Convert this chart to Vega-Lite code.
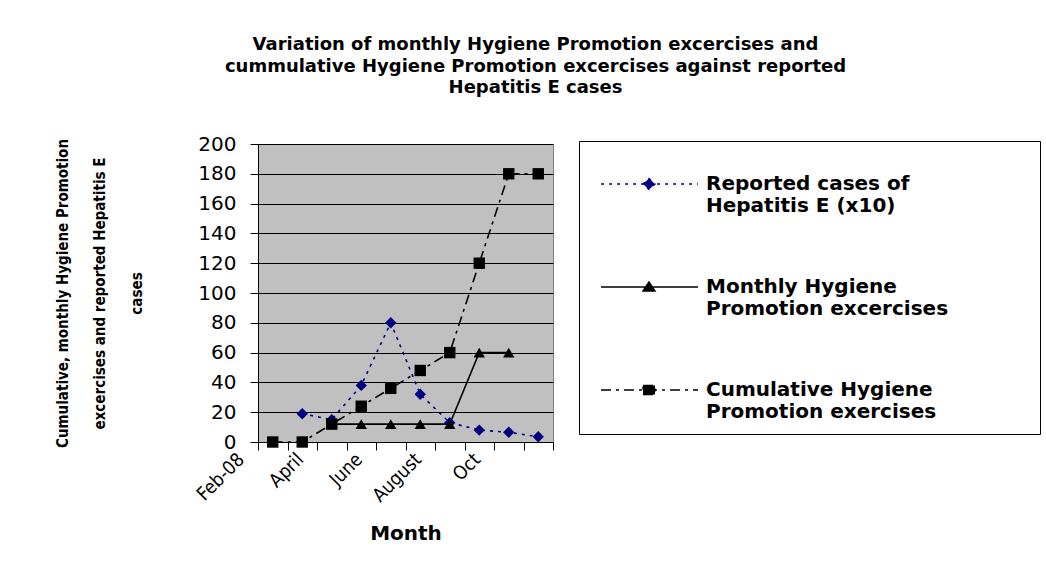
{
  "$schema": "https://vega.github.io/schema/vega-lite/v6.json",
  "width": 295,
  "height": 298,
  "autosize": {"type": "none"},
  "padding": {"left": 258, "top": 144, "right": 493, "bottom": 122},
  "background": "white",
  "title": {
    "text": ["Variation of monthly Hygiene Promotion excercises and", "cummulative Hygiene Promotion excercises against reported", "Hepatitis E cases"],
    "anchor": "middle",
    "frame": "group",
    "dx": 130,
    "offset": 37,
    "font": "DejaVu Sans",
    "fontSize": 18,
    "fontWeight": "bold",
    "lineHeight": 21.5,
    "color": "black"
  },
  "data": {
    "values": [
      {"month": "March", "series": "reported", "value": 19},
      {"month": "April", "series": "reported", "value": 15},
      {"month": "May", "series": "reported", "value": 38},
      {"month": "June", "series": "reported", "value": 80},
      {"month": "July", "series": "reported", "value": 32},
      {"month": "August", "series": "reported", "value": 13},
      {"month": "Sept", "series": "reported", "value": 8},
      {"month": "Oct", "series": "reported", "value": 6.5},
      {"month": "Nov", "series": "reported", "value": 3.5},
      {"month": "April", "series": "monthly", "value": 12},
      {"month": "May", "series": "monthly", "value": 12},
      {"month": "June", "series": "monthly", "value": 12},
      {"month": "July", "series": "monthly", "value": 12},
      {"month": "August", "series": "monthly", "value": 12},
      {"month": "Sept", "series": "monthly", "value": 60},
      {"month": "Oct", "series": "monthly", "value": 60},
      {"month": "Feb-08", "series": "cumulative", "value": 0},
      {"month": "March", "series": "cumulative", "value": 0},
      {"month": "April", "series": "cumulative", "value": 12},
      {"month": "May", "series": "cumulative", "value": 24},
      {"month": "June", "series": "cumulative", "value": 36},
      {"month": "July", "series": "cumulative", "value": 48},
      {"month": "August", "series": "cumulative", "value": 60},
      {"month": "Sept", "series": "cumulative", "value": 120},
      {"month": "Oct", "series": "cumulative", "value": 180},
      {"month": "Nov", "series": "cumulative", "value": 180}
    ]
  },
  "encoding": {
    "x": {
      "field": "month",
      "type": "ordinal",
      "sort": ["Feb-08", "March", "April", "May", "June", "July", "August", "Sept", "Oct", "Nov"],
      "bandPosition": 0.5,
      "scale": {"type": "band", "paddingInner": 0, "paddingOuter": 0},
      "axis": {
        "title": "Month",
        "titleFont": "DejaVu Sans",
        "titleFontSize": 20,
        "titleFontWeight": "bold",
        "titleColor": "black",
        "titleBaseline": "middle",
        "titleY": 91,
        "labelAngle": -45,
        "labelAlign": "right",
        "labelBaseline": "middle",
        "labelOffset": -32,
        "labelPadding": 6,
        "labelFont": "DejaVu Sans Condensed",
        "labelFontSize": 19,
        "labelColor": "black",
        "labelExpr": "indexof(['Feb-08','April','June','August','Oct'], datum.value) >= 0 ? datum.value : ''",
        "tickBand": "extent",
        "tickSize": 8,
        "tickColor": "black",
        "domainColor": "black",
        "grid": false
      }
    },
    "y": {
      "field": "value",
      "type": "quantitative",
      "scale": {"domain": [0, 200], "nice": false},
      "axis": {
        "title": ["Cumulative, monthly Hygiene Promotion", "excercises and reported Hepatitis E", "cases"],
        "titleFont": "DejaVu Sans Condensed",
        "titleFontSize": 15,
        "titleFontWeight": "bold",
        "titleColor": "black",
        "titleLineHeight": 37,
        "titleAngle": -90,
        "titleAlign": "center",
        "titleBaseline": "middle",
        "titleX": -196,
        "titleY": 149,
        "values": [0, 20, 40, 60, 80, 100, 120, 140, 160, 180, 200],
        "labelFont": "DejaVu Sans",
        "labelFontSize": 20,
        "labelColor": "black",
        "labelPadding": 14,
        "tickSize": 8,
        "tickColor": "black",
        "domainColor": "black",
        "grid": true,
        "gridColor": "black",
        "gridOpacity": 1
      }
    }
  },
  "layer": [
    {
      "mark": {"type": "line", "strokeWidth": 1.6},
      "encoding": {
        "color": {
          "field": "series",
          "type": "nominal",
          "scale": {"domain": ["cumulative", "monthly", "reported"], "range": ["#000000", "#000000", "#000080"]},
          "legend": null
        },
        "strokeDash": {
          "field": "series",
          "type": "nominal",
          "scale": {"domain": ["reported", "monthly", "cumulative"], "range": [[3, 5], [1, 0], [10, 5, 3, 5]]},
          "legend": {
            "orient": "none",
            "legendX": 321,
            "legendY": -3,
            "title": "\u2800                                                                \u2800",
            "titleFontSize": 20,
            "titleFontWeight": "normal",
            "titleFont": "DejaVu Sans",
            "titleLimit": 2000,
            "titlePadding": 0,
            "padding": 12,
            "strokeColor": "black",
            "fillColor": "white",
            "symbolSize": 400,
            "symbolStrokeWidth": 1.5,
            "labelFont": "DejaVu Sans",
            "labelFontSize": 20,
            "labelFontWeight": "bold",
            "labelColor": "black",
            "labelOffset": 93,
            "labelLimit": 600,
            "rowPadding": 60,
            "labelExpr": "datum.value == 'reported' ? ['Reported cases of', 'Hepatitis E (x10)'] : datum.value == 'monthly' ? ['Monthly Hygiene', 'Promotion excercises'] : ['Cumulative Hygiene', 'Promotion exercises']",
            "encode": {
              "symbols": {
                "update": {
                  "shape": {"signal": "datum.value == 'reported' ? 'M-0.1,0H9.6M4.7,-0.55L5.3,0L4.7,0.55L4.1,0Z' : datum.value == 'monthly' ? 'M-0.1,0H9.6M4.7,-0.5L5.3,0.4L4.1,0.4Z' : 'M-0.1,0H9.6M4.1,-0.45H5.3V0.45H4.1Z'"},
                  "fill": {"scale": "color", "field": "value"},
                  "stroke": {"scale": "color", "field": "value"}
                }
              }
            }
          }
        }
      }
    },
    {
      "mark": {"type": "point", "filled": true, "size": 130, "opacity": 1},
      "encoding": {
        "color": {"field": "series", "type": "nominal", "legend": null},
        "shape": {
          "field": "series",
          "type": "nominal",
          "scale": {"domain": ["reported", "monthly", "cumulative", "none"], "range": ["diamond", "triangle-up", "square", "circle"]},
          "legend": null
        }
      }
    }
  ],
  "config": {
    "view": {"fill": "#C0C0C0", "stroke": "#808080", "strokeWidth": 1}
  }
}
